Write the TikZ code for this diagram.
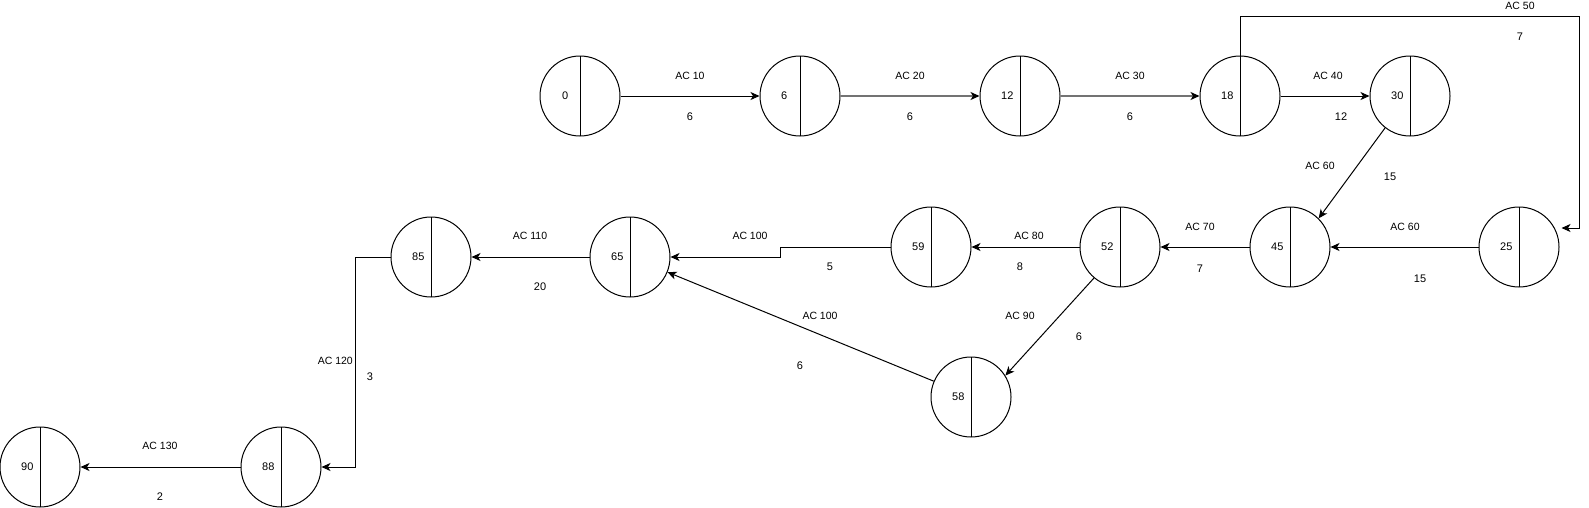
\documentclass[tikz,border=0pt]{standalone}
\usepackage{fontspec}
\setmainfont{Liberation Sans}
\usetikzlibrary{arrows.meta}

\tikzset{
  event/.style={circle, draw, line width=1pt, minimum size=80pt, inner sep=0pt,
    path picture={\draw[line width=1pt] (path picture bounding box.north) -- (path picture bounding box.south);}},
  num/.style={anchor=west, inner sep=0pt, font=\fontsize{11}{13}\selectfont},
  act/.style={inner sep=0pt, font=\fontsize{10.5}{12}\selectfont},
  dur/.style={inner sep=0pt, font=\fontsize{11}{13}\selectfont},
  link/.style={line width=1pt, -{Stealth[length=9pt,width=8pt,inset=2.5pt]}},
  greylink/.style={line width=1.3pt, draw=black!55, -{Stealth[length=9pt,width=8pt,inset=2.5pt,color=black]}}
}

\begin{document}
\begin{tikzpicture}[x=1pt, y=-1pt]
    \useasboundingbox (0,0) rectangle (1589,507);

    % Top row of events
    \node[event] (n0) at (580,96) {};
    \node[event] (n6) at (800,96) {};
    \node[event] (n12) at (1020,96) {};
    \node[event] (n18) at (1240,96) {};
    \node[event] (n30) at (1410,96) {};

    % Middle row of events
    \node[event] (n25) at (1519,247) {};
    \node[event] (n45) at (1290,247) {};
    \node[event] (n52) at (1120,247) {};
    \node[event] (n59) at (931,247) {};
    \node[event] (n65) at (630,257) {};
    \node[event] (n85) at (431,257) {};

    % Lower events
    \node[event] (n58) at (971,397) {};
    \node[event] (n88) at (281,467) {};
    \node[event] (n90) at (40,467) {};

    % Event numbers (left half)
    \node[num] at ([xshift=-18pt]n0.center) {0};
    \node[num] at ([xshift=-19pt]n6.center) {6};
    \node[num] at ([xshift=-19pt]n12.center) {12};
    \node[num] at ([xshift=-19pt]n18.center) {18};
    \node[num] at ([xshift=-19pt]n30.center) {30};
    \node[num] at ([xshift=-19pt]n25.center) {25};
    \node[num] at ([xshift=-19pt]n45.center) {45};
    \node[num] at ([xshift=-19pt]n52.center) {52};
    \node[num] at ([xshift=-19pt]n59.center) {59};
    \node[num] at ([xshift=-19pt]n65.center) {65};
    \node[num] at ([xshift=-19pt]n85.center) {85};
    \node[num] at ([xshift=-19pt]n58.center) {58};
    \node[num] at ([xshift=-19pt]n88.center) {88};
    \node[num] at ([xshift=-19pt]n90.center) {90};

    % Activities along the top
    \draw[link] (n0.east) -- (n6.west);
    \draw[greylink] (n6.east) -- (n12.west);
    \draw[greylink] (n12.east) -- (n18.west);
    \draw[link] (n18.east) -- (n30.west);

    % Activity 50 over the top to event 25
    \coordinate (b50) at (1579,16);
    \draw[link] (n18.north) |- (b50) |- ([shift={(2,-19)}]n25.east);

    % Activities back along the middle row
    \draw[link] (n30.232) -- (n45.45);
    \draw[link] (n25.west) -- (n45.east);
    \draw[link] (n45.west) -- (n52.east);
    \draw[link] (n52.west) -- (n59.east);
    \coordinate (s59) at (780,247);
    \draw[link] (n59.west) -- (s59) |- (n65.east);
    \draw[link] (n52.230) -- (n58.32);
    \draw[link] (n58.157) -- (n65.338);
    \draw[link] (n65.west) -- (n85.east);

    % Activities down to the end
    \coordinate (s85) at (355,257);
    \draw[link] (n85.west) -- (s85) |- (n88.east);
    \draw[link] (n88.west) -- (n90.east);

    % Activity names and durations
    \node[act] at (690,76) {AC 10};
    \node[dur] at (690,117) {6};
    \node[act] at (910,76) {AC 20};
    \node[dur] at (910,117) {6};
    \node[act] at (1130,76) {AC 30};
    \node[dur] at (1130,117) {6};
    \node[act] at (1328,76) {AC 40};
    \node[dur] at (1341,117) {12};
    \node[act] at (1520,6) {AC 50};
    \node[dur] at (1520,37) {7};
    \node[act] at (1320,166) {AC 60};
    \node[dur] at (1390,177) {15};
    \node[act] at (1405,227) {AC 60};
    \node[dur] at (1420,279) {15};
    \node[act] at (1200,227) {AC 70};
    \node[dur] at (1200,269) {7};
    \node[act] at (1029,236) {AC 80};
    \node[dur] at (1020,267) {8};
    \node[act] at (750,236) {AC 100};
    \node[dur] at (830,267) {5};
    \node[act] at (820,316) {AC 100};
    \node[dur] at (800,366) {6};
    \node[act] at (1020,316) {AC 90};
    \node[dur] at (1079,337) {6};
    \node[act] at (530,236) {AC 110};
    \node[dur] at (540,287) {20};
    \node[act, anchor=east] at (353,361) {AC 120};
    \node[dur] at (370,377) {3};
    \node[act] at (160,446) {AC 130};
    \node[dur] at (160,497) {2};

\end{tikzpicture}
\end{document}
